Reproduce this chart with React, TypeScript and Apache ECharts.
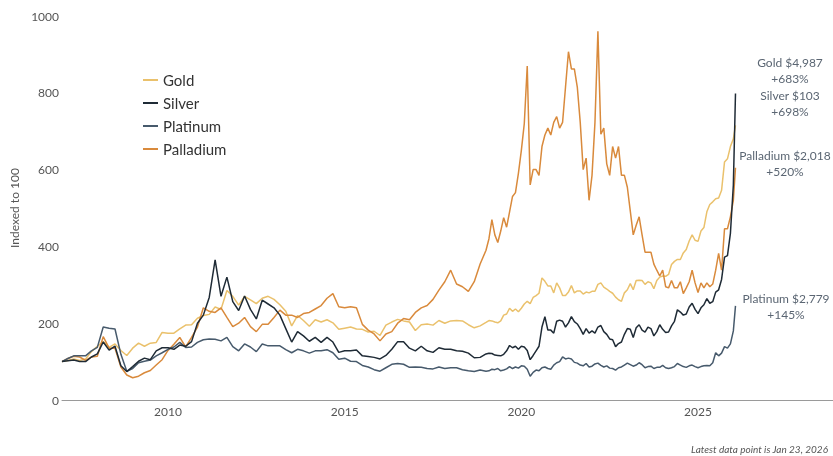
import React, { useEffect, useRef } from "react";
import * as echarts from "echarts";

// 2007-2018 every two months, 2019-2025 monthly, then Jan 2026 and the last point
const dates = [
  "2007-01","2007-03","2007-05","2007-07","2007-09","2007-11",
  "2008-01","2008-03","2008-05","2008-07","2008-09","2008-11",
  "2009-01","2009-03","2009-05","2009-07","2009-09","2009-11",
  "2010-01","2010-03","2010-05","2010-07","2010-09","2010-11",
  "2011-01","2011-03","2011-05","2011-07","2011-09","2011-11",
  "2012-01","2012-03","2012-05","2012-07","2012-09","2012-11",
  "2013-01","2013-03","2013-05","2013-07","2013-09","2013-11",
  "2014-01","2014-03","2014-05","2014-07","2014-09","2014-11",
  "2015-01","2015-03","2015-05","2015-07","2015-09","2015-11",
  "2016-01","2016-03","2016-05","2016-07","2016-09","2016-11",
  "2017-01","2017-03","2017-05","2017-07","2017-09","2017-11",
  "2018-01","2018-03","2018-05","2018-07","2018-09","2018-11",
  "2019-01","2019-02","2019-03","2019-04","2019-05","2019-06","2019-07","2019-08","2019-09","2019-10","2019-11","2019-12",
  "2020-01","2020-02","2020-03","2020-04","2020-05","2020-06","2020-07","2020-08","2020-09","2020-10","2020-11","2020-12",
  "2021-01","2021-02","2021-03","2021-04","2021-05","2021-06","2021-07","2021-08","2021-09","2021-10","2021-11","2021-12",
  "2022-01","2022-02","2022-03","2022-04","2022-05","2022-06","2022-07","2022-08","2022-09","2022-10","2022-11","2022-12",
  "2023-01","2023-02","2023-03","2023-04","2023-05","2023-06","2023-07","2023-08","2023-09","2023-10","2023-11","2023-12",
  "2024-01","2024-02","2024-03","2024-04","2024-05","2024-06","2024-07","2024-08","2024-09","2024-10","2024-11","2024-12",
  "2025-01","2025-02","2025-03","2025-04","2025-05","2025-06","2025-07","2025-08","2025-09","2025-10","2025-11","2025-12",
  "2026-01","2026-01-23",
];

const gold = [
  100,103,107,103,107,126,
  140,152,137,146,129,116,
  135,148,140,148,150,176,
  174,174,185,195,196,213,
  220,223,242,236,285,270,
  247,270,261,251,265,270,
  262,248,231,193,220,207,
  192,209,203,209,201,184,
  187,190,185,184,177,179,
  168,195,203,210,206,203,
  181,196,198,195,207,200,
  206,207,206,196,188,193,
  202,207,206,203,201,206,221,224,239,231,237,230,
  239,250,257,251,267,272,278,318,309,297,297,279,
  305,292,272,272,281,298,279,284,284,276,281,279,
  283,283,301,305,294,289,283,278,268,261,257,279,
  287,303,287,311,312,311,301,308,305,290,311,320,
  323,322,327,353,361,366,366,383,392,414,430,416,
  413,440,449,490,509,516,524,526,546,620,628,660,
  680,715,
];

const silver = [
  100,102,104,100,100,112,
  120,151,130,140,89,74,
  87,101,109,105,128,136,
  136,132,143,140,152,200,
  221,267,365,270,320,256,
  233,271,236,211,260,250,
  240,221,186,151,178,167,
  153,163,150,163,151,124,
  128,128,130,115,113,111,
  107,116,132,152,152,135,
  128,140,128,124,136,132,
  132,128,127,122,110,111,
  120,122,121,117,116,115,119,128,142,136,140,132,
  140,138,129,105,116,128,140,190,217,182,182,174,
  205,208,205,190,201,217,204,198,186,171,186,174,
  180,174,190,194,178,171,159,157,139,147,151,171,
  186,184,163,188,196,182,177,190,186,167,178,196,
  184,176,177,193,205,235,229,221,224,242,252,236,
  225,240,248,264,252,256,281,287,314,372,376,434,
  560,798,
];

const platinum = [
  100,108,115,115,115,128,
  137,190,187,185,119,75,
  82,97,101,104,115,123,
  132,138,150,137,138,150,
  157,159,158,154,163,139,
  128,146,138,126,146,141,
  141,141,131,123,132,128,
  122,128,128,131,123,106,
  109,101,100,90,86,79,
  75,84,93,95,93,85,
  86,85,82,81,86,82,
  84,84,79,76,74,78,
  75,76,80,79,82,76,78,81,87,82,86,83,
  89,88,80,62,72,78,76,84,86,82,80,91,
  97,100,112,107,109,107,98,96,91,89,95,86,
  88,94,96,90,86,89,83,82,78,84,86,91,
  96,92,88,91,97,92,84,87,88,82,85,85,
  90,84,82,84,87,95,91,87,85,89,91,87,
  84,87,89,90,89,97,123,115,122,139,135,146,
  180,245,
];

const palladium = [
  100,108,114,112,103,112,
  114,165,135,135,86,65,
  58,62,71,77,91,105,
  129,145,163,138,163,190,
  240,231,228,240,215,191,
  200,215,191,178,197,197,
  215,234,221,221,215,225,
  228,237,246,265,277,243,
  240,243,240,197,182,172,
  154,172,178,200,212,209,
  228,240,246,262,286,308,
  338,302,295,283,308,354,
  390,420,470,430,410,440,475,450,490,530,540,590,
  650,720,870,560,600,600,585,660,690,708,690,723,
  738,708,723,815,907,862,862,815,723,600,630,520,
  585,723,960,692,708,615,585,660,630,660,585,585,
  554,492,430,455,477,430,385,385,385,354,338,323,
  338,295,292,311,292,292,308,277,292,308,338,305,
  280,305,292,305,295,302,338,382,338,446,446,477,
  520,605,
];

const xTickLabels = [2010, 2015, 2020, 2025];
const yMin = 0;
const yMax = 1000;
const yStep = 200;

const endLabels = [
  { text: "Gold $4,987\n+683%", cx: 790, top: 54 },
  { text: "Silver $103\n+698%", cx: 790, top: 87 },
  { text: "Palladium $2,018\n+520%", cx: 785, top: 147 },
  { text: "Platinum $2,779\n+145%", cx: 786, top: 290 },
];

const footnote = "Latest data point is Jan 23, 2026";

const COLORS: Record<string, string> = {
  Gold: "#eac16c",
  Silver: "#1f2b36",
  Platinum: "#475a6c",
  Palladium: "#d98a3c",
};

function toYear(s: string): number {
  const parts = s.split("-").map(Number);
  const y = parts[0];
  const m = parts[1] || 1;
  const d = parts[2] || 1;
  return y + (m - 1) / 12 + (d - 1) / 365;
}

const FONT = "Lato, 'Noto Sans', sans-serif";

export default function App() {
  const ref = useRef<HTMLDivElement>(null);
  useEffect(() => {
    if (!ref.current) return;
    const chart = echarts.init(ref.current, null, { renderer: "svg" });
    const xs = dates.map(toYear);
    const mk = (vals: number[]) => xs.map((x, i) => [x, vals[i]]);
    const line = (name: string, vals: number[]) => ({
      name,
      type: "line",
      data: mk(vals),
      showSymbol: false,
      symbol: "none",
      lineStyle: { color: COLORS[name], width: 1.5 },
      itemStyle: { color: COLORS[name] },
    });
    chart.setOption({
      animation: false,
      grid: { left: 62, right: 0, top: 16, bottom: 56, containLabel: false },
      xAxis: {
        type: "value",
        min: 2007,
        max: 2028.82,
        axisLine: { show: true, lineStyle: { color: "#9a9a9a", width: 1 } },
        axisTick: { show: false },
        splitLine: { show: false },
        axisLabel: {
          customValues: xTickLabels,
          formatter: (v: number) => String(v),
          color: "#555",
          fontSize: 12,
          fontFamily: FONT,
          margin: 5,
        },
      },
      yAxis: {
        type: "value",
        min: yMin,
        max: yMax,
        interval: yStep,
        name: "Indexed to 100",
        nameLocation: "middle",
        nameGap: 34,
        nameTextStyle: { color: "#555", fontSize: 12, fontFamily: FONT },
        axisLine: { show: false },
        axisTick: { show: false },
        splitLine: { show: false },
        axisLabel: {
          color: "#555",
          fontSize: 12,
          fontFamily: FONT,
          margin: 3,
          formatter: (v: number) => String(v),
        },
      },
      legend: {
        data: ["Gold", "Silver", "Platinum", "Palladium"],
        orient: "vertical",
        left: 143,
        top: 72,
        padding: 0,
        icon: "rect",
        itemWidth: 15,
        itemHeight: 2,
        itemGap: 7,
        textStyle: { color: "#333", fontSize: 15, fontFamily: FONT, lineHeight: 16 },
      },
      series: [
        line("Gold", gold),
        line("Palladium", palladium),
        line("Platinum", platinum),
        line("Silver", silver),
      ],
      graphic: [
        ...endLabels.map((l) => ({
          type: "text",
          x: l.cx,
          y: l.top,
          style: {
            text: l.text,
            textAlign: "center",
            textVerticalAlign: "top",
            fill: "#5b6673",
            font: `12px ${FONT}`,
            lineHeight: 16,
          },
        })),
        {
          type: "text",
          x: 828,
          y: 449,
          style: {
            text: footnote,
            textAlign: "right",
            textVerticalAlign: "middle",
            fill: "#555",
            font: `italic 10px ${FONT}`,
          },
        },
      ],
    });
    return () => chart.dispose();
  }, []);
  return (
    <div
      ref={ref}
      style={{ position: "fixed", left: 0, top: 0, width: 833, height: 456 }}
    />
  );
}
